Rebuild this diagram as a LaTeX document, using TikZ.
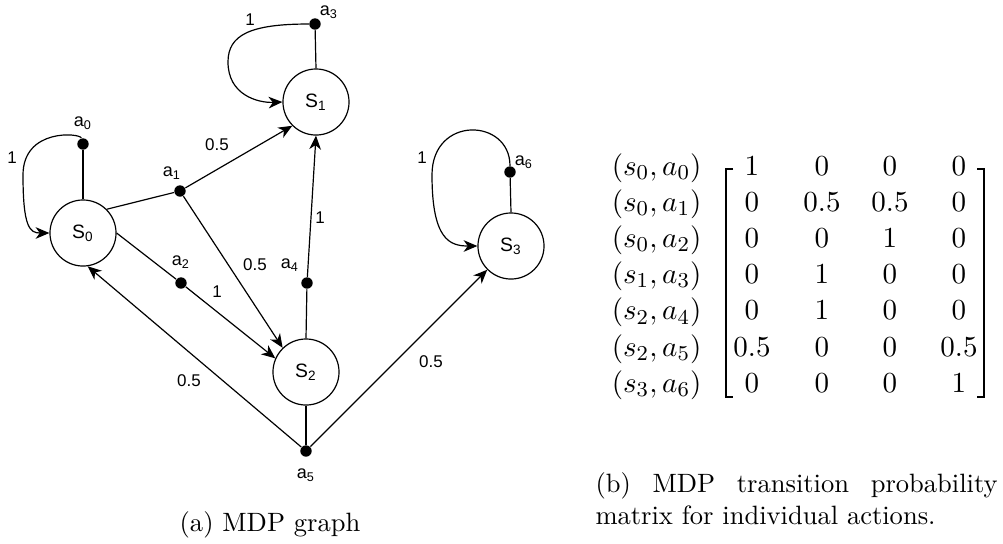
\documentclass[tikz,border=0pt]{standalone}
\usepackage{fontspec}
\usetikzlibrary{arrows.meta}
\newfontfamily\lsans{Liberation Sans}
\begin{document}
\begin{tikzpicture}[x=0.377pt,y=-0.377pt,
  state/.style={circle, draw, line width=0.45pt, minimum size=24.9pt, inner sep=0pt,
                font=\lsans\fontsize{7.3}{8}\selectfont},
  act/.style={circle, fill, inner sep=0pt, minimum size=4.3pt},
  albl/.style={font=\lsans\fontsize{6.8}{8}\selectfont, inner sep=0pt},
  plbl/.style={font=\lsans\fontsize{6.4}{8}\selectfont, inner sep=0pt},
  link/.style={line width=0.45pt},
  arr/.style={link, -{Stealth[length=5.2pt,width=4.4pt,inset=1.6pt]}},
  cell/.style={anchor=base, inner sep=0pt},
  mfont/.style={font=\fontsize{11}{13}\selectfont},
  bracket/.style={line width=0.5pt}]
\useasboundingbox (0,0) rectangle (1003,543);

% states
\node[state] (s0) at (83,233)  {S\textsubscript{0}};
\node[state] (s1) at (316,102) {S\textsubscript{1}};
\node[state] (s2) at (306,372) {S\textsubscript{2}};
\node[state] (s3) at (511,246) {S\textsubscript{3}};

% actions
\node[act] (a0) at (83,144)  {};
\node[act] (a1) at (180,191) {};
\node[act] (a2) at (181,283) {};
\node[act] (a3) at (315,24)  {};
\node[act] (a4) at (307,283) {};
\node[act] (a5) at (306,451) {};
\node[act] (a6) at (510,172) {};

\node[albl] (la0) at (83,123)  {a\textsubscript{0}};
\node[albl] (la1) at (172,173) {a\textsubscript{1}};
\node[albl] (la2) at (181,262) {a\textsubscript{2}};
\node[albl] (la3) at (329,12)  {a\textsubscript{3}};
\node[albl] (la4) at (290,265) {a\textsubscript{4}};
\node[albl] (la5) at (306,475) {a\textsubscript{5}};
\node[albl] (la6) at (524,162) {a\textsubscript{6}};

% state -> action
\draw[link] (s0.north) -- (a0);
\draw[link] (s0.45)    -- (a1);
\draw[link] (s0.east)  -- (a2);
\draw[link] (s1.north) -- (a3);
\draw[link] (s2.north) -- (a4);
\draw[link] (s2.south) -- (a5);
\draw[link] (s3.north) -- (a6);

% action -> state
\draw[arr] (a0) .. controls (80,133) and (23,128) .. (23,175)
               .. controls (23,228) and (30,233) .. (s0.west);
\draw[arr] (a1) -- (s1.225);
\draw[arr] (a1) -- (s2.134);
\draw[arr] (a2) -- (s2.156);
\draw[arr] (a3) .. controls (250,24) and (228,35) .. (228,62)
               .. controls (228,95) and (258,103) .. (s1.west);
\draw[arr] (a4) -- (s1.south);
\draw[arr] (a5) -- (s0.278);
\draw[arr] (a5) -- (s3.225);
\draw[arr] (a6) .. controls (510,118) and (432,115) .. (432,175)
               .. controls (432,240) and (450,246) .. (s3.west);

% probabilities
\node[plbl] (p00) at (12,158)  {1};
\node[plbl] (p11) at (217,145) {0.5};
\node[plbl] (p12) at (255,265) {0.5};
\node[plbl] (p22) at (217,292) {1};
\node[plbl] (p33) at (250,20)  {1};
\node[plbl] (p41) at (320,218) {1};
\node[plbl] (p50) at (189,381) {0.5};
\node[plbl] (p53) at (431,362) {0.5};
\node[plbl] (p66) at (422,158) {1};

% transition matrix
\foreach \lab/\ca/\cb/\cc/\cd [count=\i] in {
    {(s_0,a_0)}/1/0/0/0,
    {(s_0,a_1)}/0/0.5/0.5/0,
    {(s_0,a_2)}/0/0/1/0,
    {(s_1,a_3)}/0/1/0/0,
    {(s_2,a_4)}/0/1/0/0,
    {(s_2,a_5)}/0.5/0/0/0.5,
    {(s_3,a_6)}/0/0/0/1} {
  \node[mfont, anchor=base east, inner sep=0pt] (r\i) at (702,{175+36.2*(\i-1)}) {$\lab$};
  \node[mfont, cell] (m\i-1) at (752,{175+36.2*(\i-1)}) {$\ca$};
  \node[mfont, cell] (m\i-2) at (822,{175+36.2*(\i-1)}) {$\cb$};
  \node[mfont, cell] (m\i-3) at (890,{175+36.2*(\i-1)}) {$\cc$};
  \node[mfont, cell] (m\i-4) at (959,{175+36.2*(\i-1)}) {$\cd$};
}
\draw[bracket] (733,169) -- (726,169) -- (726,397) -- (733,397);
\draw[bracket] (977,169) -- (984,169) -- (984,397) -- (977,397);

% captions
\node[anchor=base, inner sep=0pt] (capa) at (270,531) {(a) MDP graph};
\node[anchor=north west, text width=151.6pt, align=justify, inner sep=0pt] (capb)
  at (595,472) {(b) MDP transition probability matrix for individual actions.};
\end{tikzpicture}
\end{document}
